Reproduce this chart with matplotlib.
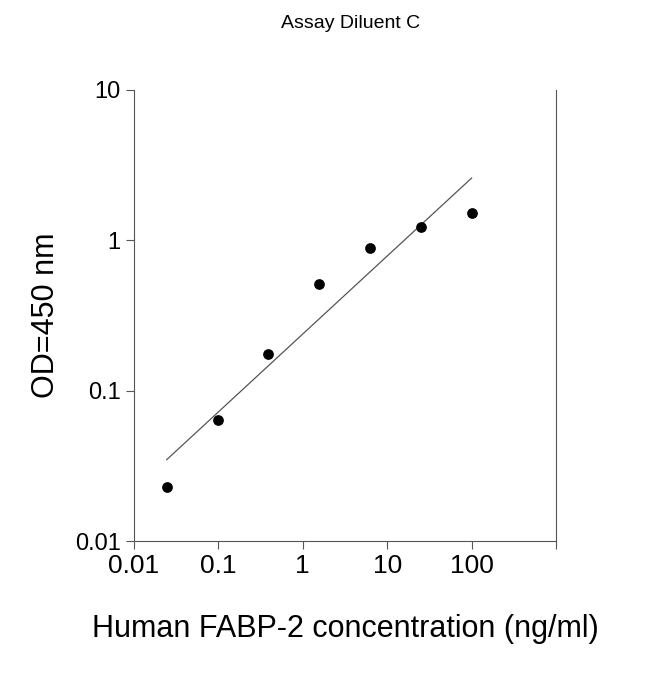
import numpy as np
import matplotlib.pyplot as plt

plt.rcParams["font.family"] = ["Liberation Sans", "DejaVu Sans"]

conc = [0.0244, 0.0977, 0.39, 1.56, 6.25, 25, 100]
od = [0.023, 0.064, 0.175, 0.51, 0.89, 1.23, 1.53]
xticks = [0.01, 0.1, 1, 10, 100, 1000]
xticklabels = ["0.01", "0.1", "1", "10", "100", ""]
yticks = [0.01, 0.1, 1, 10]
yticklabels = ["0.01", "0.1", "1", "10"]

fig = plt.figure(figsize=(6.5, 6.74), dpi=100)
ax = fig.add_axes([134 / 650, 133 / 674, 422 / 650, 451 / 674])

# log-log regression line
slope, icpt = np.polyfit(np.log10(conc), np.log10(od), 1)
xl = np.array([conc[0], conc[-1]])
ax.plot(xl, 10 ** (icpt + slope * np.log10(xl)), color="#555555", lw=0.9)
ax.scatter(conc, od, color="black", s=45, zorder=3)

ax.set_xscale("log")
ax.set_yscale("log")
ax.set_xlim(0.01, 1000)
ax.set_ylim(0.01, 10)
ax.set_xticks(xticks)
ax.set_xticklabels(xticklabels, fontsize=19)
ax.set_yticks(yticks)
ax.set_yticklabels(yticklabels, fontsize=17)
ax.minorticks_off()
ax.tick_params(direction="out", length=6, color="#555555")
ax.spines["top"].set_visible(False)
for s in ["left", "right", "bottom"]:
    ax.spines[s].set_color("#555555")

ax.set_xlabel("Human FABP-2 concentration (ng/ml)", fontsize=22, labelpad=26)
ax.set_ylabel("OD=450 nm", fontsize=22, labelpad=10)
fig.text(0.54, 0.965, "Assay Diluent C", ha="center", va="center", fontsize=14)

fig.savefig("out.png")
